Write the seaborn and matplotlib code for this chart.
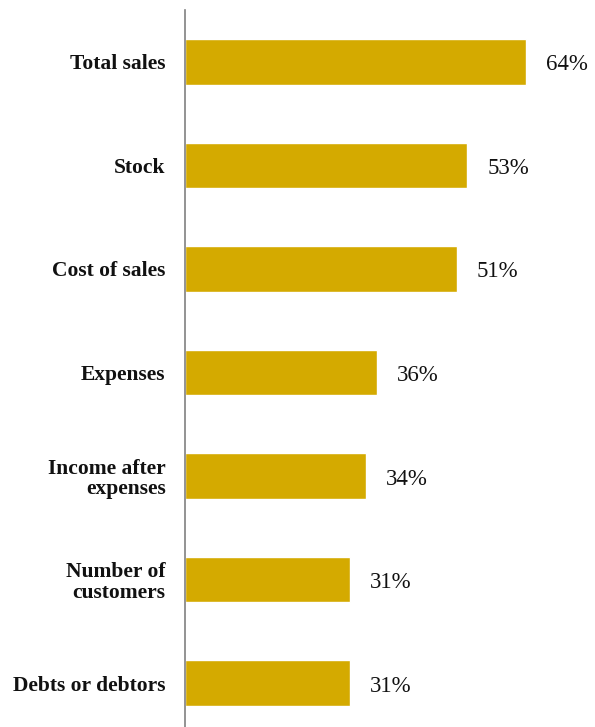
import matplotlib
matplotlib.use("Agg")
import matplotlib.pyplot as plt
import seaborn as sns
import pandas as pd

categories = [
    "Total sales",
    "Stock",
    "Cost of sales",
    "Expenses",
    "Income after\nexpenses",
    "Number of\ncustomers",
    "Debts or debtors",
]
values = [64, 53, 51, 36, 34, 31, 31]
value_labels = ["64%", "53%", "51%", "36%", "34%", "31%", "31%"]

bar_color = "#D4AA00"

sns.set_theme(style="white")
plt.rcParams["font.family"] = ["Liberation Serif", "DejaVu Serif"]

df = pd.DataFrame({"category": categories, "value": values})

fig = plt.figure(figsize=(5.95, 7.27), dpi=100)
ax = fig.add_axes([185 / 595, -8 / 727, 410 / 595, 725 / 727])

sns.barplot(data=df, x="value", y="category", color=bar_color,
            width=0.44, saturation=1, ax=ax, orient="h")

ax.set_xlim(0, 410 / 5.33)
ax.set_ylim(6.5, -0.5)
ax.set_xlabel("")
ax.set_ylabel("")
ax.set_xticks([])

for side in ["top", "right", "bottom"]:
    ax.spines[side].set_visible(False)
ax.spines["left"].set_color("#808080")
ax.spines["left"].set_linewidth(1.2)

ax.tick_params(axis="y", length=0, pad=14)
for lbl in ax.get_yticklabels():
    lbl.set_fontweight("bold")
    lbl.set_fontsize(15.5)
    lbl.set_color("#111111")
    lbl.set_horizontalalignment("right")
    lbl.set_multialignment("right")
    lbl.set_linespacing(1.05)

for i, (v, t) in enumerate(zip(values, value_labels)):
    ax.annotate(t, xy=(v, i), xytext=(20, -3), textcoords="offset pixels",
                va="center", ha="left", fontsize=16.5, color="#111111")

fig.savefig("out.png", dpi=100)
